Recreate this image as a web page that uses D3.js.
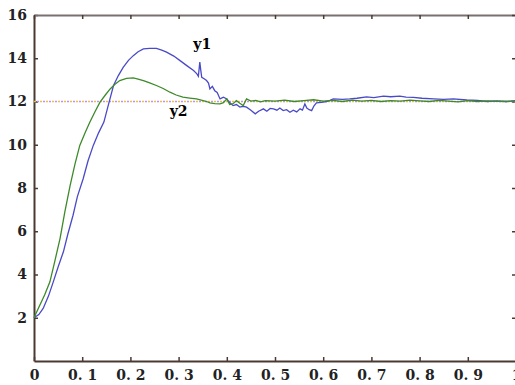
<!DOCTYPE html>
<html>
<head>
<meta charset="utf-8">
<script src="https://cdn.jsdelivr.net/npm/d3@7"></script>
<style>
  body { margin: 0; background: #fff; }
  .tick text { font-family: "DejaVu Serif", "Liberation Serif", serif; font-weight: bold; font-size: 14px; fill: #222; }
</style>
</head>
<body>
<div id="chart"></div>
<script>
// step response data
var t1 = [0, 0.01, 0.019, 0.03, 0.04, 0.05, 0.061, 0.07, 0.081, 0.09, 0.102, 0.112, 0.123, 0.134, 0.145, 0.155, 0.165, 0.175, 0.185, 0.196, 0.206, 0.216, 0.227, 0.24, 0.254, 0.265, 0.275, 0.29, 0.303, 0.317, 0.331, 0.338, 0.341, 0.344, 0.346, 0.348, 0.353, 0.358, 0.362, 0.365, 0.37, 0.375, 0.38, 0.386, 0.393, 0.40, 0.406, 0.413, 0.42, 0.427, 0.434, 0.441, 0.45, 0.459, 0.466, 0.476, 0.483, 0.49, 0.497, 0.504, 0.51, 0.517, 0.524, 0.531, 0.538, 0.545, 0.552, 0.557, 0.562, 0.566, 0.571, 0.576, 0.581, 0.586, 0.596, 0.607, 0.614, 0.621, 0.64, 0.655, 0.67, 0.69, 0.705, 0.725, 0.74, 0.759, 0.772, 0.787, 0.805, 0.829, 0.85, 0.87, 0.898, 0.92, 0.94, 0.96, 0.98, 1.0];
var y1 = [2, 2.15, 2.43, 3.0, 3.66, 4.35, 5.05, 5.85, 6.74, 7.6, 8.43, 9.25, 9.97, 10.55, 11.05, 11.9, 12.74, 13.2, 13.58, 13.9, 14.12, 14.3, 14.43, 14.46, 14.46, 14.38, 14.28, 14.1, 13.89, 13.66, 13.43, 13.28, 13.17, 13.82, 13.45, 13.12, 13.05, 12.97, 12.85, 12.58, 12.7, 12.5, 12.42, 12.12, 12.2, 12.12, 11.95, 11.81, 11.86, 11.74, 11.78, 11.74, 11.6, 11.43, 11.55, 11.66, 11.55, 11.68, 11.66, 11.6, 11.7, 11.58, 11.62, 11.5, 11.6, 11.52, 11.66, 11.6, 11.89, 11.7, 11.62, 11.58, 11.8, 11.94, 11.96, 12.0, 12.05, 12.12, 12.1, 12.12, 12.15, 12.21, 12.18, 12.25, 12.22, 12.25, 12.2, 12.19, 12.15, 12.12, 12.1, 12.12, 12.07, 12.05, 12.0, 12.03, 12.0, 12.05];

var t2 = [0, 0.012, 0.022, 0.033, 0.043, 0.054, 0.064, 0.075, 0.085, 0.095, 0.106, 0.116, 0.127, 0.137, 0.148, 0.158, 0.168, 0.178, 0.192, 0.206, 0.216, 0.227, 0.24, 0.254, 0.268, 0.282, 0.295, 0.309, 0.323, 0.337, 0.351, 0.358, 0.365, 0.375, 0.386, 0.393, 0.40, 0.406, 0.413, 0.42, 0.427, 0.434, 0.441, 0.45, 0.46, 0.47, 0.48, 0.5, 0.52, 0.54, 0.56, 0.58, 0.6, 0.62, 0.64, 0.66, 0.68, 0.7, 0.72, 0.74, 0.76, 0.78, 0.8, 0.82, 0.84, 0.86, 0.88, 0.9, 0.92, 0.94, 0.96, 0.98, 1.0];
var y2 = [2, 2.58, 3.05, 3.66, 4.6, 5.66, 6.9, 8.12, 9.1, 9.97, 10.55, 11.05, 11.55, 11.97, 12.3, 12.58, 12.8, 12.97, 13.07, 13.09, 13.04, 12.97, 12.86, 12.74, 12.6, 12.43, 12.3, 12.2, 12.16, 12.12, 12.04, 12.0, 11.94, 11.9, 11.89, 11.95, 12.12, 11.86, 11.9, 12.04, 11.92, 11.81, 12.12, 12.02, 12.05, 11.98, 12.04, 12.02, 12.06, 12.0, 12.04, 12.08, 12.02, 12.05, 12.0, 12.06, 12.02, 12.05, 12.0, 12.04, 12.02, 12.06, 12.03, 12.0, 12.05, 12.02, 11.98, 12.04, 12.0, 12.03, 12.01, 12.0, 12.02];

var setpoint = 12;
var xTicks = [0, 0.1, 0.2, 0.3, 0.4, 0.5, 0.6, 0.7, 0.8, 0.9, 1];
var yTicks = [2, 4, 6, 8, 10, 12, 14, 16];

var svgWidth = 515;
var svgHeight = 385;
var margin = { top: 15, right: -1, bottom: 24, left: 34 };
var width = svgWidth - margin.left - margin.right;
var height = svgHeight - margin.top - margin.bottom;

var svg = d3.select('#chart').append('svg')
  .attr('width', svgWidth)
  .attr('height', svgHeight);

var chartGroup = svg.append('g')
  .attr('transform', `translate(${margin.left}, ${margin.top})`);

var xScale = d3.scaleLinear().domain([0, 1]).range([0, width]);
var yScale = d3.scaleLinear().domain([0, 16]).range([height, 0]);

// labels like "0. 1"
var fmtX = d => d === 0 ? '0' : d === 1 ? '1' : d3.format('.1f')(d).replace('.', '. ');

var axisColor = '#4a3a32';

// bottom axis (ticks inward)
var xAxis = chartGroup.append('g')
  .attr('transform', `translate(0, ${height})`)
  .call(d3.axisBottom(xScale).tickValues(xTicks).tickFormat(fmtX).tickSizeInner(-4).tickSizeOuter(0).tickPadding(11));

// left axis (ticks inward)
var yAxis = chartGroup.append('g')
  .call(d3.axisLeft(yScale).tickValues(yTicks).tickSizeInner(-4).tickSizeOuter(0).tickPadding(7));

// top & right frame
var topAxis = chartGroup.append('g')
  .call(d3.axisTop(xScale).tickValues(xTicks).tickFormat('').tickSizeInner(-4).tickSizeOuter(0));
var rightAxis = chartGroup.append('g')
  .attr('transform', `translate(${width}, 0)`)
  .call(d3.axisRight(yScale).tickValues(yTicks).tickFormat('').tickSizeInner(-4).tickSizeOuter(0));

[xAxis, yAxis, topAxis, rightAxis].forEach(function(a) {
  a.select('.domain').attr('stroke', axisColor).attr('stroke-width', 2);
  a.selectAll('.tick line').attr('stroke', axisColor).attr('stroke-width', 1.5);
});
topAxis.select('.domain').attr('stroke', '#7a7070');
xAxis.selectAll('.tick text').attr('dy', '0.55em');

// dotted setpoint line
var refLine = d3.line().x(d => xScale(d)).y(() => yScale(setpoint));
chartGroup.append('path')
  .datum([0, 1])
  .attr('d', refLine)
  .attr('fill', 'none')
  .attr('stroke', '#e8c050')
  .attr('stroke-width', 1.6)
  .attr('stroke-dasharray', '2,4');
chartGroup.append('path')
  .datum([0, 1])
  .attr('d', refLine)
  .attr('fill', 'none')
  .attr('stroke', '#c890e0')
  .attr('stroke-width', 1.6)
  .attr('stroke-dasharray', '2,4')
  .attr('stroke-dashoffset', 3);

var line = d3.line()
  .x(d => xScale(d[0]))
  .y(d => yScale(d[1]));

chartGroup.append('path')
  .datum(t1.map((t, i) => [t, y1[i]]))
  .attr('d', line)
  .attr('fill', 'none')
  .attr('stroke', '#4a4ac8')
  .attr('stroke-width', 1.3);

chartGroup.append('path')
  .datum(t2.map((t, i) => [t, y2[i]]))
  .attr('d', line)
  .attr('fill', 'none')
  .attr('stroke', '#3d8a2a')
  .attr('stroke-width', 1.3);

// curve labels
chartGroup.append('text')
  .attr('x', xScale(0.349))
  .attr('y', yScale(14.45))
  .attr('text-anchor', 'middle')
  .style('font-family', '"DejaVu Serif", serif')
  .style('font-weight', 'bold')
  .style('font-size', '14px')
  .text('y1');

chartGroup.append('text')
  .attr('x', xScale(0.3))
  .attr('y', yScale(11.35))
  .attr('text-anchor', 'middle')
  .style('font-family', '"DejaVu Serif", serif')
  .style('font-weight', 'bold')
  .style('font-size', '14px')
  .text('y2');
</script>
</body>
</html>
